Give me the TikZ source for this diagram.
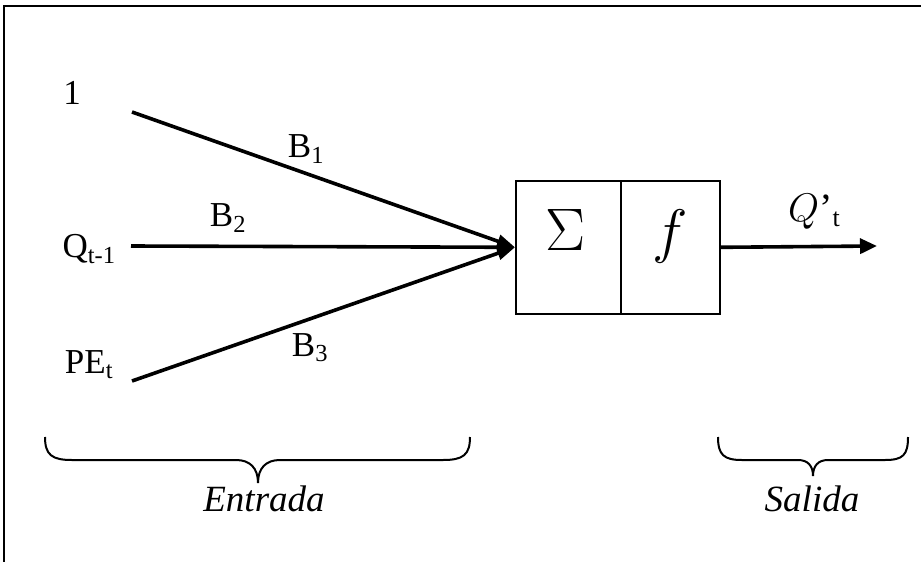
\RequirePackage{fix-cm}
\documentclass[tikz,border=0pt]{standalone}
\usepackage{fontspec}
\setmainfont{Liberation Serif}
\usetikzlibrary{arrows.meta}
\begin{document}
\begin{tikzpicture}[x=1pt,y=-1pt,
  lbl/.style={inner sep=0pt,font=\fontsize{35}{40}\selectfont},
  captxt/.style={inner sep=0pt,font=\fontsize{37}{42}\selectfont\itshape},
  wline/.style={line width=3.6pt,-{Triangle[length=18pt,width=13pt]}},
  half/.style={draw,line width=1.6pt,minimum height=133pt,inner sep=0pt,anchor=north west},
  brace/.style={line width=2pt}]
\useasboundingbox (0,0) rectangle (921,562);
% frame
\draw[line width=2.5pt] (4,562) -- (4,6) -- (921,6);
% inputs
\node[lbl] (one) at (72,93) {1};
\node[lbl] (q) at (89,249) {Q\textsubscript{t-1}};
\node[lbl] (pe) at (89,365) {PE\textsubscript{t}};
\coordinate (s1) at (132,112);
\coordinate (s2) at (131,246);
\coordinate (s3) at (132,381);
% box
\node[half,minimum width=105pt] (sumbox) at (515,180) {};
\node[half,minimum width=99pt] (fbox) at (620,180) {};
\node[inner sep=0pt,font=\fontsize{60}{66}\selectfont] (sig) at (566,230) {$\Sigma$};
\node[inner sep=0pt,font=\fontsize{60}{66}\selectfont] (fn) at (670,236) {$f$};
% weighted connections
\draw[wline] (s1) -- (sumbox.west);
\draw[wline] (s2) -- (sumbox.west);
\draw[wline] (s3) -- (sumbox.west);
\node[lbl] (b1) at (306,149) {B\textsubscript{1}};
\node[lbl] (b2) at (228,218) {B\textsubscript{2}};
\node[lbl] (b3) at (310,348) {B\textsubscript{3}};
% output
\coordinate (out) at (877,246);
\draw[line width=3.6pt,-{Triangle[length=17pt,width=15pt]}] (fbox.east) -- (out);
\node[inner sep=0pt,font=\fontsize{40}{44}\selectfont] (qp) at (814,212) {$Q$’\raisebox{-5pt}{\fontsize{26}{28}\selectfont t}};
% braces
\draw[brace] (45,437) .. controls (45,455) and (52,460) .. (72,460) -- (236,460)
  .. controls (250,460) and (258,468) .. (258,483)
  .. controls (258,468) and (266,460) .. (280,460) -- (443,460)
  .. controls (463,460) and (470,455) .. (470,437);
\draw[brace] (718,437) .. controls (718,455) and (724,460) .. (742,460) -- (798,460)
  .. controls (808,460) and (813,466) .. (813,476)
  .. controls (813,466) and (818,460) .. (828,460) -- (885,460)
  .. controls (903,460) and (908,455) .. (908,437);
\node[captxt] (entrada) at (264,499) {Entrada};
\node[captxt] (salida) at (812,499) {Salida};
\end{tikzpicture}
\end{document}
